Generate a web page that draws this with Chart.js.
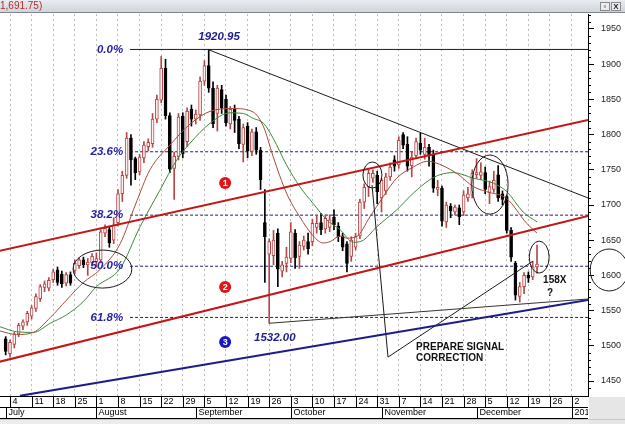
<!DOCTYPE html>
<html>
<head>
<meta charset="utf-8">
<title>Ouro 2011</title>
<script src="https://cdn.jsdelivr.net/npm/chart.js@4.4.1/dist/chart.umd.min.js"></script>
<style>
  html, body { margin: 0; padding: 0; background: #fff; overflow: hidden; }
  #caixa { width: 625px; height: 424px; }
</style>
</head>
<body>
<div id="caixa"><canvas id="graficoOuro" width="625" height="424"></canvas></div>
<script>
/* ================= DADOS ================= */
// dia útil: 0 = segunda, 4 de julho de 2011
const dias = [-1,0,1,2,3,4,5,6,7,8,9,10,11,12,13,14,15,16,17,18,19,20,21,22,23,24,25,26,27,28,29,
  30,31,32,33,34,35,36,37,38,39,40,41,42,43,44,45,46,47,48,49,50,51,52,53,54,55,56,57,58,59,
  60,61,62,63,64,65,66,67,68,69,70,71,72,73,74,75,76,77,78,79,80,81,82,83,84,85,86,87,88,89,
  90,91,92,93,94,95,96,97,98,99,100,101,102,103,104,105,106,107,108,109,110,111,112,113,114,
  115,116,117,118,119,120,121,122];
const aberturas = [1510,1489,1502,1517,1528,1534,1542,1553,1567,1583,1582,1594,1608,1602,1589,1601,
  1607,1614,1622,1615,1618,1619,1622,1660,1665,1650,1675,1716,1742,1795,1766,1747,1767,1783,1787,
  1822,1849,1894,1827,1752,1769,1826,1790,1836,1822,1828,1876,1898,1866,1830,1864,1850,1815,1836,
  1822,1786,1812,1776,1804,1778,1675,1630,1628,1660,1606,1617,1624,1660,1627,1641,1648,1648,1668,
  1675,1666,1668,1683,1670,1656,1645,1627,1640,1656,1704,1726,1738,1742,1710,1720,1740,1764,1757,
  1800,1786,1756,1770,1788,1772,1782,1772,1722,1724,1676,1698,1690,1696,1690,1710,1714,1743,1742,
  1746,1718,1722,1743,1716,1712,1664,1617,1570,1584,1600,1598,1612];
const maximas = [1513,1508,1519,1532,1537,1549,1557,1574,1587,1592,1597,1609,1612,1606,1604,1605,
  1622,1625,1626,1624,1631,1632,1665,1672,1670,1682,1722,1748,1803,1800,1768,1772,1790,1794,1830,
  1856,1911,1907,1831,1775,1830,1831,1838,1842,1835,1882,1905,1920.95,1875,1870,1870,1856,1840,1842,
  1826,1815,1817,1808,1810,1782,1722,1652,1664,1666,1620,1640,1675,1665,1648,1656,1660,1680,1685,
  1688,1686,1686,1693,1675,1660,1648,1655,1660,1708,1730,1750,1750,1748,1738,1745,1760,1770,1797,
  1803,1797,1775,1795,1802,1795,1786,1778,1735,1727,1704,1702,1700,1700,1720,1725,1750,1766,1760,
  1754,1734,1748,1756,1720,1714,1668,1620,1590,1604,1605,1620,1643];
const minimas = [1487,1484,1497,1513,1523,1529,1538,1549,1563,1577,1578,1590,1586,1583,1585,1586,
  1602,1610,1611,1600,1613,1612,1618,1655,1640,1645,1670,1705,1738,1728,1736,1743,1760,1777,1782,
  1817,1845,1822,1746,1708,1764,1767,1783,1812,1815,1820,1870,1860,1810,1805,1830,1812,1808,1803,
  1780,1761,1767,1770,1772,1722,1590,1532,1615,1584,1598,1605,1618,1610,1610,1636,1630,1642,1660,
  1658,1660,1662,1665,1648,1635,1605,1620,1636,1652,1695,1712,1732,1702,1690,1715,1735,1748,1752,
  1780,1748,1740,1766,1772,1765,1755,1718,1713,1670,1668,1682,1686,1672,1685,1705,1710,1738,1736,
  1716,1702,1718,1705,1700,1660,1620,1565,1562,1574,1590,1594,1603];
const fechamentos = [1492,1505,1517,1529,1534,1546,1554,1570,1584,1588,1593,1605,1590,1588,1601,1589,
  1617,1622,1615,1619,1627,1624,1662,1667,1646,1672,1716,1742,1795,1764,1746,1768,1785,1789,1822,
  1850,1894,1827,1751,1769,1825,1773,1833,1822,1829,1876,1898,1866,1815,1866,1838,1817,1836,1820,
  1787,1810,1777,1804,1778,1736,1655,1648,1650,1609,1615,1626,1662,1625,1643,1650,1638,1674,1674,
  1665,1681,1679,1672,1655,1640,1617,1650,1655,1704,1725,1745,1745,1719,1735,1740,1754,1755,1792,
  1785,1755,1768,1790,1778,1782,1770,1724,1725,1677,1700,1692,1697,1683,1714,1716,1745,1746,1747,
  1722,1726,1735,1710,1708,1664,1626,1572,1584,1600,1596,1612,1616];

// médias móveis (dia, preço)
const mediaVermelhaDias = [-2.3,1.5,5.4,9.3,13.1,17,20.8,25.5,29,32.4,37,41.7,46.3,51.7,56.3,58.7,
  60.9,64,67.1,70.2,72.5,74.1,76.4,78,80.2,83.3,86.4,89.5,93.4,96.5,98,103.4,107.3,110.3,115,119.6,122];
const mediaVermelhaValores = [1521,1516,1519,1540,1565,1590,1608,1645,1700,1750,1785,1815,1833,1837,
  1832,1811,1769,1717,1683,1656,1646,1648,1656,1653,1655,1683,1712,1738,1754,1762,1761,1745,1726,
  1719,1709,1674,1660];
const mediaVerdeDias = [-2.3,1.5,5.4,9.3,13.1,17,20,25.5,30.1,34.7,38.6,41.7,46.3,50.9,54,56.3,58.7,
  60.9,64,67.1,70.2,73.3,76.4,79.5,81.8,84.9,89.5,93.4,97.2,99.5,102.6,107.3,111.9,115,118.8,122];
const mediaVerdeValores = [1527,1520,1519,1532,1544,1563,1584,1610,1669,1721,1764,1788,1816,1831,1830,
  1823,1816,1795,1757,1726,1702,1679,1665,1647,1650,1669,1693,1717,1736,1743,1746,1738,1731,1719,
  1690,1676];

// eixos
const precoTicks = [1450,1500,1550,1600,1650,1700,1750,1800,1850,1900,1950];
const semanasDias = [0,5,10,15,20,25,30,35,40,45,50,55,60,65,70,75,80,85,90,95,100,105,110,115,120,125,130];
const semanasRotulos = ['4','11','18','25','1','8','15','22','29','5','12','19','26','3','10','17','24',
  '31','7','14','21','28','5','12','19','26','2'];
const mesesDias = [-1,20,43,65,86,108,130];
const mesesRotulos = ['July','August','September','October','November','December','2012'];

// Fibonacci
const fibNiveis = [1920.95,1775.6,1685.6,1613.0,1540.3];
const fibRotulos = ['0.0%','23.6%','38.2%','50.0%','61.8%'];

/* ================= DESENHOS DO ANALISTA ================= */
const linhaTopo = [[45.8,1920.95],[133.8,1710]];
const canalSuperior = [[-2.4,1635],[133.8,1820.7]];
const canalInferior = [[-2.4,1477.4],[133.8,1684.4]];
const linhaAzul = [[2.3,1429],[133.8,1565]];
const linhaFundo = [[60,1532],[133.8,1566.5]];
const linhaV = [[83.8,1728.4],[87.5,1484],[121.1,1620.5]];

// [dia, preço, raio em dias, raio em preço]
const elipses = [[21.4,1609,6.8,27],[83.9,1742.6,2.2,18.5],[111.1,1729,4.2,42],[122.5,1626,2.3,22.7]];
const elipseEixo = [138.7,1607.7,4.4,29.8];
const marcadores = [[49.8,1731.3,'1'],[49.8,1583.5,'2'],[49.8,1505.4,'3']];

var fonte = '"Liberation Sans", Arial, sans-serif';

/* ================= MONTAGEM ================= */
var alta = dias.map(function (d, i) { return fechamentos[i] >= aberturas[i]; });
var pavios = dias.map(function (d, i) { return { x: d, y: [minimas[i], maximas[i]] }; });
var corpos = dias.map(function (d, i) {
    return { x: d, y: [Math.min(aberturas[i], fechamentos[i]), Math.max(aberturas[i], fechamentos[i])] };
});

function pontos(lista) {
    return lista.map(function (p) { return { x: p[0], y: p[1] }; });
}
function linha(lista, cor, largura, ordem, tracejado) {
    return { type: 'line', data: pontos(lista), borderColor: cor, borderWidth: largura, pointRadius: 0,
        fill: false, tension: 0, order: ordem, borderDash: tracejado || [] };
}
function media(xs, ys, cor) {
    return { type: 'line', data: xs.map(function (x, i) { return { x: x, y: ys[i] }; }), borderColor: cor,
        borderWidth: 1, pointRadius: 0, fill: false, cubicInterpolationMode: 'monotone', order: 6 };
}

var conjuntos = [];
// linhas de Fibonacci
fibNiveis.forEach(function (v, i) {
    conjuntos.push(linha([[27.8, v], [133.8, v]], i === 0 ? '#14144a' : '#1e1e66', 1, 10, i === 0 ? [] : [3, 2]));
});
conjuntos.push({ type: 'bar', data: pavios, backgroundColor: alta.map(function (a) { return a ? '#b24848' : '#000'; }),
    barThickness: 1, grouped: false, order: 8 });
conjuntos.push({ type: 'bar', data: corpos, backgroundColor: alta.map(function (a) { return a ? '#fff3f3' : '#000'; }),
    borderColor: alta.map(function (a) { return a ? '#b24848' : '#000'; }), borderWidth: 1, borderSkipped: false,
    barThickness: 3, grouped: false, minBarLength: 1, order: 7 });
conjuntos.push(media(mediaVermelhaDias, mediaVermelhaValores, '#a84a3a'));
conjuntos.push(media(mediaVerdeDias, mediaVerdeValores, '#3a8a3a'));
conjuntos.push(linha(linhaTopo, '#1a1a1a', 1, 5));
conjuntos.push(linha(linhaFundo, '#333', 1, 5));
conjuntos.push(linha(linhaV, '#1a1a1a', 1, 5));
conjuntos.push(linha(canalSuperior, '#c41616', 2, 4));
conjuntos.push(linha(canalInferior, '#c41616', 2, 4));
conjuntos.push(linha(linhaAzul, '#1c1c8a', 2, 4));

function px(chart, d) { return chart.scales.x.getPixelForValue(d); }
function py(chart, v) { return chart.scales.y.getPixelForValue(v); }

function desenhaElipse(chart, e) {
    var ctx = chart.ctx;
    var cx = px(chart, e[0]), cy = py(chart, e[1]);
    var rx = Math.abs(px(chart, e[0] + e[2]) - cx), ry = Math.abs(py(chart, e[1] + e[3]) - cy);
    ctx.beginPath();
    ctx.ellipse(cx, cy, rx, ry, 0, 0, Math.PI * 2);
    ctx.strokeStyle = '#1a1a1a';
    ctx.lineWidth = 1;
    ctx.stroke();
}

function texto(ctx, t, x, y, fonteCss, cor, alinha) {
    ctx.font = fonteCss;
    ctx.fillStyle = cor;
    ctx.textAlign = alinha || 'left';
    ctx.textBaseline = 'middle';
    ctx.fillText(t, x, y);
}

var anotacoes = {
    id: 'anotacoes',
    afterDatasetsDraw: function (chart) {
        var ctx = chart.ctx, a = chart.chartArea;
        ctx.save();
        ctx.beginPath();
        ctx.rect(a.left, a.top, a.right - a.left, a.bottom - a.top);
        ctx.clip();
        elipses.forEach(function (e) { desenhaElipse(chart, e); });

        // rótulos de Fibonacci
        fibNiveis.forEach(function (v, i) {
            texto(ctx, fibRotulos[i], px(chart, 26.2), py(chart, v), 'bold italic 11.5px ' + fonte, '#2323a3', 'right');
        });
        texto(ctx, '1920.95', px(chart, 48.4), py(chart, 1938.6), 'bold italic 11.5px ' + fonte, '#1c1c8c', 'center');
        texto(ctx, '1532.00', px(chart, 61.3), py(chart, 1511), 'bold italic 11.5px ' + fonte, '#1c1c8c', 'center');

        // marcadores numerados
        marcadores.forEach(function (m) {
            var x = px(chart, m[0]), y = py(chart, m[1]);
            ctx.beginPath();
            ctx.arc(x, y, 6, 0, Math.PI * 2);
            ctx.fillStyle = m[2] === '3' ? '#1616c8' : '#e21414';
            ctx.fill();
            texto(ctx, m[2], x, y + 0.5, 'bold 9px ' + fonte, '#fff', 'center');
        });

        texto(ctx, 'PREPARE SIGNAL', px(chart, 94), py(chart, 1498.3), 'bold 10px ' + fonte, '#111');
        texto(ctx, 'CORRECTION', px(chart, 94), py(chart, 1482.7), 'bold 10px ' + fonte, '#111');
        texto(ctx, '158X', px(chart, 123.4), py(chart, 1593.5), 'bold 10px ' + fonte, '#111');
        texto(ctx, '?', px(chart, 124.3), py(chart, 1575), 'bold 10px ' + fonte, '#111');
        ctx.restore();
    },
    afterDraw: function (chart) {
        var ctx = chart.ctx, a = chart.chartArea, W = chart.width, H = chart.height;
        ctx.save();

        // marcas menores do eixo de preços
        ctx.strokeStyle = '#000';
        ctx.lineWidth = 1;
        for (var v = 1440; v <= 1970; v += 10) {
            if (v % 50 === 0) continue;
            var y = Math.round(py(chart, v)) + 0.5;
            ctx.beginPath(); ctx.moveTo(a.right, y); ctx.lineTo(a.right + 3, y); ctx.stroke();
        }

        // eixo de datas
        var b = a.bottom;
        ctx.fillStyle = '#fff';
        ctx.fillRect(0, b + 1, a.right, 22);
        ctx.fillStyle = '#e6e6e6';
        ctx.fillRect(a.right + 1, b + 1, W - a.right, H - b);
        ctx.fillStyle = '#ececec';
        ctx.fillRect(0, b + 23, a.right + 1, H - b - 23);
        ctx.strokeStyle = '#000';
        ctx.beginPath();
        ctx.moveTo(0, b + 11.5); ctx.lineTo(a.right, b + 11.5);
        ctx.moveTo(0, b + 22.5); ctx.lineTo(a.right, b + 22.5);
        ctx.stroke();
        ctx.strokeStyle = '#c8c8c8';
        ctx.beginPath(); ctx.moveTo(0, b + 23.5); ctx.lineTo(W, b + 23.5); ctx.stroke();

        ctx.save();
        ctx.beginPath(); ctx.rect(0, b, a.right, 24); ctx.clip();
        ctx.strokeStyle = '#000';
        semanasDias.forEach(function (d, i) {
            var x = Math.round(px(chart, d)) + 0.5;
            ctx.beginPath(); ctx.moveTo(x, b); ctx.lineTo(x, b + 11); ctx.stroke();
            texto(ctx, semanasRotulos[i], x + 2, b + 6, '9px ' + fonte, '#000');
        });
        mesesDias.forEach(function (d, i) {
            var x = Math.round(px(chart, d)) + 0.5;
            ctx.beginPath(); ctx.moveTo(x, b + 11); ctx.lineTo(x, b + 22); ctx.stroke();
            texto(ctx, mesesRotulos[i], x + 2, b + 17, '9px ' + fonte, '#000');
        });
        ctx.restore();

        // elipse sobre o eixo de preços
        desenhaElipse(chart, elipseEixo);

        // barra de título
        var g = ctx.createLinearGradient(0, 0, 0, 12);
        g.addColorStop(0, '#e9ecf0');
        g.addColorStop(1, '#cfd5dc');
        ctx.fillStyle = g;
        ctx.fillRect(0, 0, W, 12);
        ctx.strokeStyle = '#7d8690';
        ctx.beginPath(); ctx.moveTo(0, 12.5); ctx.lineTo(W, 12.5); ctx.stroke();
        texto(ctx, '1,691.75)', 0, 6.5, '10px ' + fonte, '#b02a2a');
        [600, 611].forEach(function (x, i) {
            ctx.fillStyle = '#ededed';
            ctx.fillRect(x, 2, 10, 9);
            ctx.strokeStyle = '#8a8a8a';
            ctx.strokeRect(x + 0.5, 2.5, 9, 8);
            texto(ctx, i === 0 ? '▫' : 'X', x + 5, 7, 'bold 8px ' + fonte, '#222', 'center');
        });
        ctx.restore();
    }
};

/* ================= GRÁFICO ================= */
var ctxOuro = document.getElementById('graficoOuro').getContext('2d');
var graficoOuro = new Chart(ctxOuro, {
    type: 'bar',
    data: { datasets: conjuntos },
    options: {
        responsive: false,
        animation: false,
        devicePixelRatio: 1,
        layout: { padding: { top: 14, left: 0, right: 0, bottom: 0 } },
        plugins: { legend: { display: false }, tooltip: { enabled: false } },
        scales: {
            x: {
                type: 'linear',
                min: -2.315,
                max: 133.8,
                offset: false,
                afterBuildTicks: function (s) { s.ticks = semanasDias.map(function (d) { return { value: d }; }); },
                afterFit: function (s) { s.height = 28; },
                ticks: { display: false },
                grid: { offset: false, color: '#bdbdbd', drawTicks: false },
                border: { display: true, color: '#000', dash: [2, 3] }
            },
            y: {
                position: 'right',
                min: 1428.7,
                max: 1971.3,
                afterBuildTicks: function (s) { s.ticks = precoTicks.map(function (v) { return { value: v }; }); },
                afterFit: function (s) { s.width = 37; },
                ticks: { font: { family: fonte, size: 9 }, color: '#222', padding: 7,
                    callback: function (v) { return String(v); } },
                grid: { drawOnChartArea: false, drawTicks: true, tickLength: 6, tickColor: '#000' },
                border: { display: true, color: '#000' }
            }
        }
    },
    plugins: [anotacoes]
});
</script>
</body>
</html>
